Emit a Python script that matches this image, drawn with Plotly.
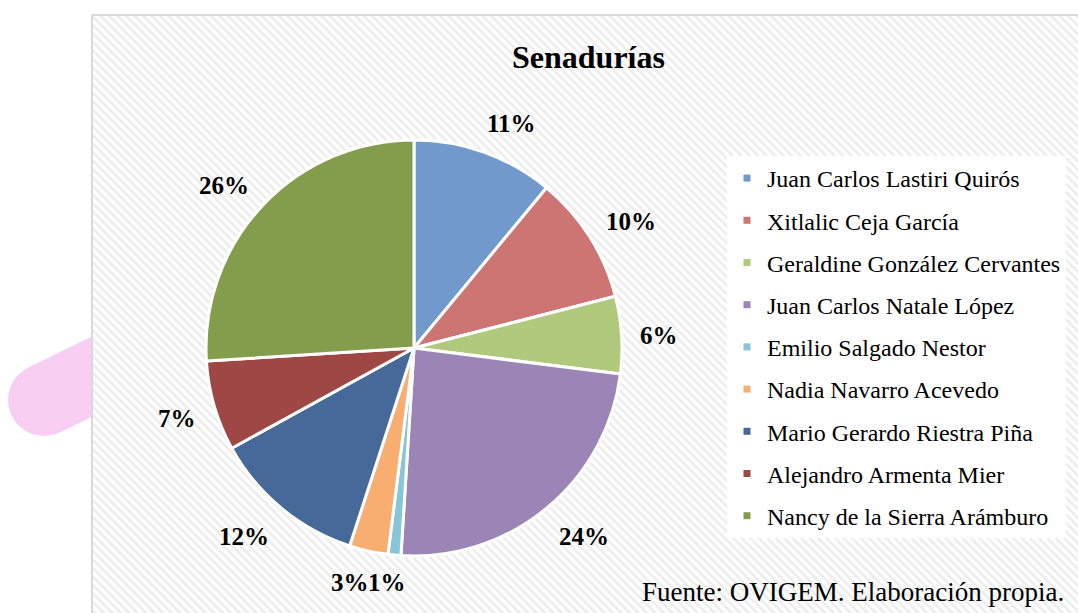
import math
import plotly.graph_objects as go

# ---- data ----
candidates = [
    "Juan Carlos Lastiri Quirós",
    "Xitlalic Ceja García",
    "Geraldine González Cervantes",
    "Juan Carlos Natale López",
    "Emilio Salgado Nestor",
    "Nadia Navarro Acevedo",
    "Mario Gerardo Riestra Piña",
    "Alejandro Armenta Mier",
    "Nancy de la Sierra Arámburo",
]
shares = [11, 10, 6, 24, 1, 3, 12, 7, 26]
colors = ["#7199CB", "#CD7572", "#B0C97D", "#9A85B6", "#86C6D8",
          "#F8AE71", "#46699A", "#9E4744", "#849D4C"]
title_text = "Senadurías"
source_text = "Fuente: OVIGEM. Elaboración propia."

W, H = 1078, 613
SERIF = "Liberation Serif, Times New Roman, serif"

# pie geometry (pixels)
CX, CY, R = 414, 348, 208
LABEL_GAP = 19
LABEL_SIZE = 25

fig = go.Figure()

# chart area with diagonal hatch
fig.add_trace(go.Scatter(
    x=[92, 1090, 1090, 92, 92], y=[15, 15, 625, 625, 15],
    mode="lines", fill="toself",
    fillcolor="white",
    fillpattern=dict(shape="\\", fgcolor="#DCDCDC", bgcolor="white",
                     size=6, solidity=0.45),
    line=dict(color="#D9D9D9", width=2),
    hoverinfo="skip", showlegend=False,
))

# legend entries
for name, col in zip(candidates, colors):
    fig.add_trace(go.Scatter(
        x=[None], y=[None], mode="markers", name=name,
        marker=dict(symbol="square", size=7, color=col),
        legendgroup=name, showlegend=True,
    ))

fig.add_trace(go.Pie(
    labels=candidates, values=shares, sort=False, direction="clockwise",
    rotation=0,
    marker=dict(colors=colors, line=dict(color="white", width=3)),
    textinfo="none",
    domain=dict(x=[(CX - R) / W, (CX + R) / W], y=[(H - CY - R) / H, (H - CY + R) / H]),
    showlegend=False, hoverinfo="label+percent",
))

# percentage labels, placed outside each slice's mid-angle
total = sum(shares)
cum = 0
labels_pos = []
for v in shares:
    mid = 2 * math.pi * (cum + v / 2) / total
    cum += v
    txt = f"{round(100 * v / total)}%"
    w = LABEL_SIZE * (0.5 * (len(txt) - 1) + 1.0)
    h = LABEL_SIZE * 1.15
    s, c = math.sin(mid), math.cos(mid)
    k = min(1.0, 1.4 * math.sqrt(abs(s)))
    x = CX + (R + LABEL_GAP) * s + (w / 2) * k * (1 if s >= 0 else -1)
    y = CY - (R + LABEL_GAP) * c - (h / 2) * c + 3
    y = min(y, H - 31)
    labels_pos.append([x, y, w, txt])

# resolve horizontal overlaps between neighbouring labels at similar height
for _ in range(5):
    for i in range(len(labels_pos) - 1):
        a, b = labels_pos[i], labels_pos[i + 1]
        if abs(a[1] - b[1]) < LABEL_SIZE:
            need = (a[2] + b[2]) / 2
            d = abs(a[0] - b[0])
            if d < need:
                push = (need - d) / 2
                if a[0] > b[0]:
                    a[0] += push; b[0] -= push
                else:
                    a[0] -= push; b[0] += push

for x, y, w, txt in labels_pos:
    fig.add_annotation(text="<b>" + txt + "</b>", x=x, y=y, xref="x", yref="y",
                       showarrow=False,
                       font=dict(family=SERIF, size=LABEL_SIZE, color="black"))

# pink decoration behind chart area
fig.add_shape(type="circle", xref="x", yref="y", x0=8, x1=80, y0=364, y1=436,
              fillcolor="#F8CEF3", line=dict(width=0), layer="below")
fig.add_shape(type="path", xref="x", yref="y",
              path="M28.2,367.6 L118.1,323.8 L149.7,388.6 L59.8,432.4 Z",
              fillcolor="#F8CEF3", line=dict(width=0), layer="below")

fig.add_annotation(text="<b>" + title_text + "</b>", x=588, y=57, xref="x", yref="y",
                   showarrow=False, font=dict(family=SERIF, size=32, color="black"))
fig.add_annotation(text=source_text, x=1066, y=592, xref="x", yref="y",
                   xanchor="right", showarrow=False,
                   font=dict(family=SERIF, size=27, color="black"))

fig.update_layout(
    width=W, height=H, margin=dict(l=0, r=0, t=0, b=0),
    paper_bgcolor="white", plot_bgcolor="rgba(0,0,0,0)",
    xaxis=dict(range=[0, W], visible=False, fixedrange=True, domain=[0, 1]),
    yaxis=dict(range=[H, 0], visible=False, fixedrange=True, domain=[0, 1]),
    showlegend=True,
    legend=dict(x=727 / W, y=1 - 156 / H, xanchor="left", yanchor="top",
                bgcolor="white", font=dict(family=SERIF, size=24, color="black"),
                tracegroupgap=8, itemwidth=30),
)

fig.write_html("out.html", config={"displayModeBar": False},
               post_script="document.body.style.margin='0';")
